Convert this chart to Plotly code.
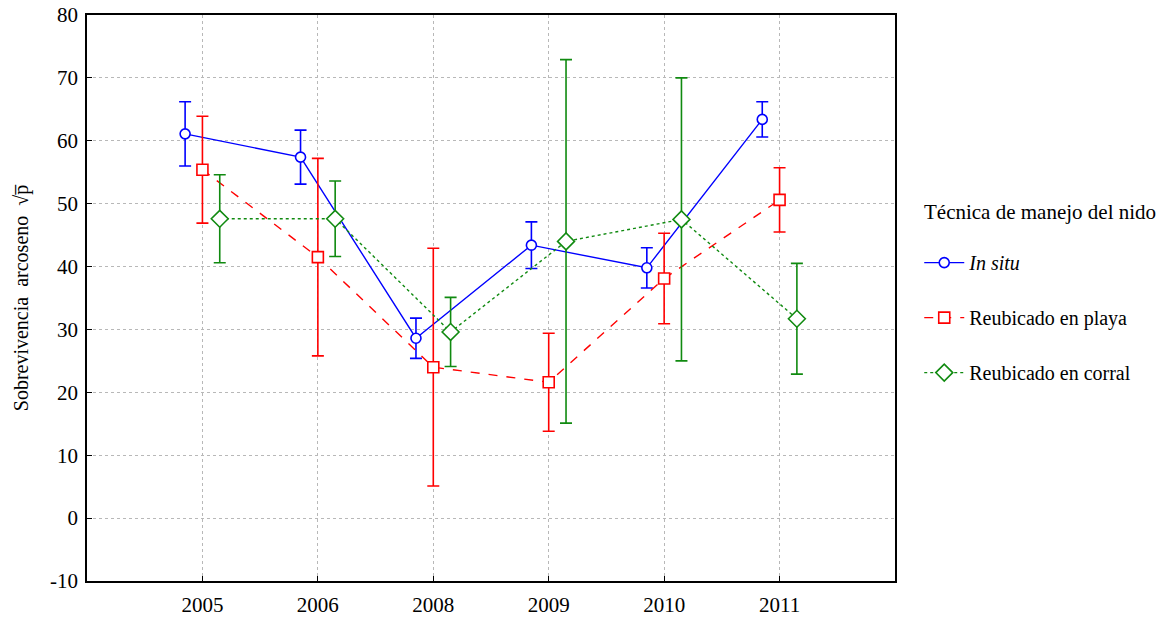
import plotly.graph_objects as go

# Survival (arcsine sqrt p) by year and nest-management technique
years = ["2005", "2006", "2008", "2009", "2010", "2011"]
y_ticks = [-10, 0, 10, 20, 30, 40, 50, 60, 70, 80]

in_situ = [61.1, 57.4, 28.6, 43.4, 39.8, 63.4]
in_situ_err = [5.1, 4.3, 3.2, 3.7, 3.2, 2.8]

playa = [55.4, 41.5, 24.0, 21.6, 38.1, 50.6]
playa_err = [8.5, 15.7, 18.9, 7.8, 7.2, 5.1]

corral = [47.6, 47.6, 29.6, 44.0, 47.5, 31.7]
corral_err = [7.0, 6.0, 5.5, 28.9, 22.5, 8.8]

series = [
    ("<i>In situ</i>", in_situ, in_situ_err, "#0000FF", "solid", "circle", -0.15, 10),
    ("Reubicado en playa", playa, playa_err, "#FF0000", "dash", "square", 0.0, 11),
    ("Reubicado en corral", corral, corral_err, "#108A10", "dot", "diamond", 0.15, 13),
]

fig = go.Figure()
for i, (name, vals, err, color, dash, symbol, offset, msize) in enumerate(series):
    xs = [k + offset for k in range(len(years))]
    fig.add_trace(go.Scatter(
        x=xs, y=vals, name=name, mode="lines+markers",
        legendgroup=f"g{i}",
        line=dict(color=color, width=1.4, dash=dash),
        marker=dict(symbol=symbol, size=msize, color="white",
                    line=dict(color=color, width=1.6)),
        error_y=dict(type="data", array=err, visible=True,
                     color=color, thickness=1.6, width=6),
    ))

font_family = "Liberation Serif, Times New Roman, serif"

fig.update_layout(
    width=1174, height=619,
    margin=dict(l=87, r=279, t=15, b=38),
    paper_bgcolor="white", plot_bgcolor="white",
    font=dict(family=font_family, size=21, color="black"),
    showlegend=True,
    legend=dict(
        x=1.03, xanchor="left", y=0.597, yanchor="top",
        font=dict(size=20), tracegroupgap=26,
        bgcolor="rgba(0,0,0,0)", itemwidth=40,
    ),
    annotations=[dict(
        text="Técnica de manejo del nido", xref="paper", yref="paper",
        x=1.033, y=0.652, xanchor="left", yanchor="middle",
        showarrow=False, font=dict(size=21),
    )],
    xaxis=dict(
        range=[-1, 6], tickvals=list(range(len(years))), ticktext=years,
        showgrid=True, gridcolor="#b8b8b8", griddash="dot", gridwidth=1,
        showline=True, linecolor="black", linewidth=1.5, mirror=True,
        ticks="inside", ticklen=5, tickcolor="black",
        zeroline=False, tickfont=dict(size=21),
        automargin=False, ticklabelstandoff=4,
    ),
    yaxis=dict(
        range=[-10, 80], tickvals=y_ticks, ticktext=[str(v) for v in y_ticks],
        showgrid=True, gridcolor="#b8b8b8", griddash="dot", gridwidth=1,
        showline=True, linecolor="black", linewidth=1.5, mirror=True,
        ticks="inside", ticklen=5, tickcolor="black",
        zeroline=False, tickfont=dict(size=21),
        automargin=False, ticklabelstandoff=3,
        title=dict(text="Sobrevivencia  arcoseno  √p̅", font=dict(size=20), standoff=16),
    ),
)

fig.write_html("out.html")
